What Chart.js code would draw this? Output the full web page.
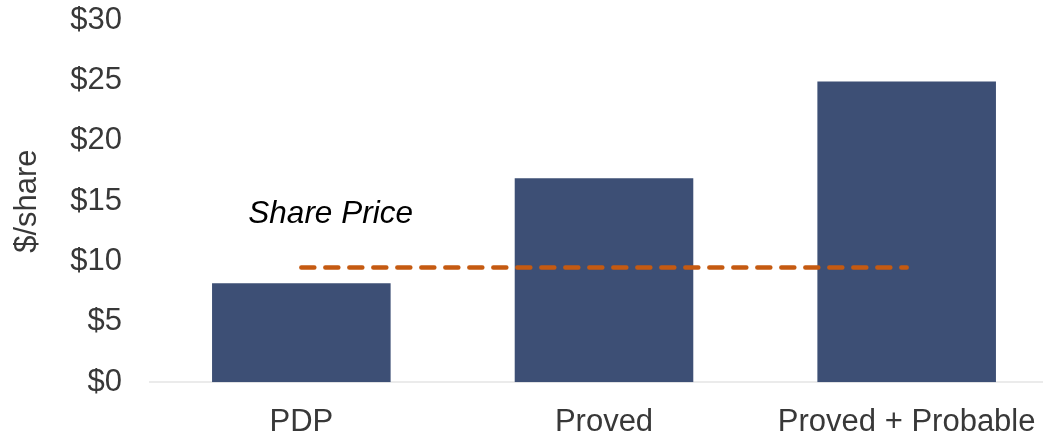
<!DOCTYPE html>
<html>
<head>
<meta charset="utf-8">
<script src="https://cdn.jsdelivr.net/npm/chart.js@4"></script>
<style>
  html, body { margin: 0; padding: 0; background: #fff; overflow: hidden; }
  #wrap { width: 1058px; height: 439px; }
</style>
</head>
<body>
<div id="wrap"><canvas id="valueChart" width="1058" height="439"></canvas></div>
<script>
// data
const categories = ['PDP', 'Proved', 'Proved + Probable'];
const navPerShare = [8.2, 16.9, 24.9];
const sharePrice = [9.5, 9.5, 9.5];
const yTicks = [0, 5, 10, 15, 20, 25, 30];

const FONT = 'Arial, "Liberation Sans", sans-serif';

// "Share Price" note placed above the dashed line
const sharePriceLabel = {
    id: 'sharePriceLabel',
    afterDatasetsDraw(chart) {
        const ctx = chart.ctx;
        const x = chart.scales.x.getPixelForValue(0) - 53;
        const y = chart.scales.y.getPixelForValue(sharePrice[0] + 4.45);
        ctx.save();
        ctx.font = 'italic 31.5px ' + FONT;
        ctx.fillStyle = '#000000';
        ctx.textAlign = 'left';
        ctx.textBaseline = 'middle';
        ctx.fillText('Share Price', x, y);
        ctx.restore();
    }
};

const ctx = document.getElementById('valueChart').getContext('2d');
const chart = new Chart(ctx, {
    data: {
        labels: categories,
        datasets: [{
            type: 'line',
            label: 'Share Price',
            data: sharePrice,
            borderColor: '#C55A11',
            borderWidth: 4.5,
            borderDash: [13, 11],
            borderCapStyle: 'round',
            pointRadius: 0,
            fill: false,
            order: 0
        }, {
            type: 'bar',
            label: '$/share',
            data: navPerShare,
            backgroundColor: '#3D4F75',
            borderWidth: 0,
            categoryPercentage: 1.0,
            barPercentage: 0.59,
            order: 1
        }]
    },
    options: {
        responsive: false,
        animation: false,
        layout: { padding: { top: 20, left: 0, right: 0, bottom: 0 } },
        plugins: {
            legend: { display: false },
            tooltip: { enabled: false }
        },
        scales: {
            x: {
                grid: { display: false },
                border: { display: true, color: '#ebebeb', width: 2 },
                ticks: {
                    color: '#383838',
                    font: { family: FONT, size: 31 },
                    padding: 14,
                    maxRotation: 0,
                    autoSkip: false
                },
                afterFit(scale) { scale.height = 56.7; }
            },
            y: {
                min: 0,
                max: 30,
                afterBuildTicks(scale) { scale.ticks = yTicks.map(v => ({ value: v })); },
                grid: { display: false },
                border: { display: false },
                ticks: {
                    color: '#383838',
                    font: { family: FONT, size: 31 },
                    padding: 20,
                    callback: v => '$' + v
                },
                title: {
                    display: true,
                    text: '$/share',
                    color: '#383838',
                    font: { family: FONT, size: 31 },
                    padding: { top: 9, bottom: 0 }
                },
                afterFit(scale) {
                    scale.width = 150;
                    scale.paddingTop = 0;
                    scale.paddingBottom = 0;
                }
            }
        }
    },
    plugins: [sharePriceLabel]
});
</script>
</body>
</html>
